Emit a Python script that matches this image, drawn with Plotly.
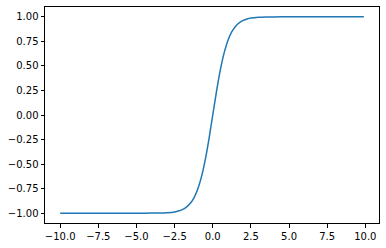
import plotly.graph_objects as go

# values
x_vals = [-10.0, -7.5, -5.0, -4.0, -3.5, -3.0, -2.5, -2.25, -2.0, -1.75, -1.5, -1.25, -1.0, -0.75, -0.5, -0.25,
          0.0, 0.25, 0.5, 0.75, 1.0, 1.25, 1.5, 1.75, 2.0, 2.25, 2.5, 3.0, 3.5, 4.0, 5.0, 7.5, 9.9]
y_vals = [-1.0, -1.0, -1.0, -0.999, -0.998, -0.995, -0.987, -0.978, -0.964, -0.941, -0.905, -0.848, -0.762, -0.635, -0.462, -0.245,
          0.0, 0.245, 0.462, 0.635, 0.762, 0.848, 0.905, 0.941, 0.964, 0.978, 0.987, 0.995, 0.998, 0.999, 1.0, 1.0, 1.0]

x_ticks = [-10.0, -7.5, -5.0, -2.5, 0.0, 2.5, 5.0, 7.5, 10.0]
y_ticks = [-1.0, -0.75, -0.5, -0.25, 0.0, 0.25, 0.5, 0.75, 1.0]

def fmt(v, d):
    s = f"{v:.{d}f}"
    return s.replace("-", "\u2212")

fig = go.Figure()
fig.add_trace(go.Scatter(x=x_vals, y=y_vals, mode="lines",
                         line=dict(color="#1f77b4", width=1.5, shape="spline", smoothing=0.6),
                         hoverinfo="skip"))

axis_common = dict(showgrid=False, zeroline=False, showline=True, linecolor="black", linewidth=1,
                   mirror=True, ticks="outside", ticklen=3.5, tickwidth=1, tickcolor="black",
                   tickfont=dict(family="DejaVu Sans", size=10, color="black"))

fig.update_xaxes(range=[-10.995, 10.895], tickmode="array", tickvals=x_ticks,
                 ticktext=[fmt(v, 1) for v in x_ticks], **axis_common)
fig.update_yaxes(range=[-1.1, 1.1], tickmode="array", tickvals=y_ticks,
                 ticktext=[fmt(v, 2) for v in y_ticks], **axis_common)

fig.update_layout(width=386, height=248, margin=dict(l=45, r=6, t=6, b=24),
                  paper_bgcolor="white", plot_bgcolor="white", showlegend=False)

fig.write_html("out.html")
